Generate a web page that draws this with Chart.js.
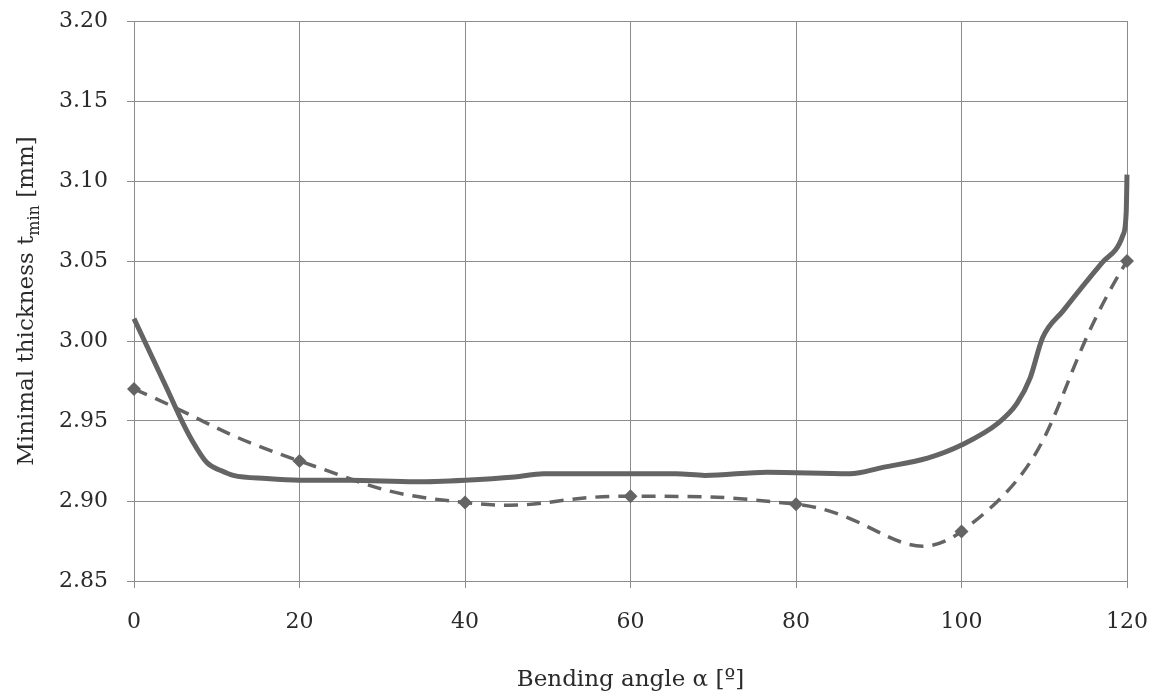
<!DOCTYPE html>
<html>
<head>
<meta charset="utf-8">
<script src="https://cdn.jsdelivr.net/npm/chart.js@4/dist/chart.umd.min.js"></script>
<style>
  html, body { margin: 0; padding: 0; background: #fff; }
  #chart { display: block; }
</style>
</head>
<body>
<canvas id="chart" width="1155" height="700"></canvas>
<script>
// solid curve (simulation)
const solidAngles = [0, 2, 4, 5.6, 7, 8.8, 10.5, 12, 16, 20, 26, 34, 40, 46, 49.5, 58, 65.5, 69, 76.5, 86.5, 90.5, 96, 100, 104.5, 106.7, 108.3, 109.8, 112.3, 117, 119.5, 119.9, 120];
const solidThickness = [3.014, 2.992, 2.970, 2.952, 2.938, 2.924, 2.919, 2.916, 2.914, 2.913, 2.913, 2.912, 2.913, 2.915, 2.917, 2.917, 2.917, 2.916, 2.918, 2.917, 2.921, 2.927, 2.935, 2.949, 2.961, 2.977, 3.002, 3.019, 3.049, 3.066, 3.080, 3.104];

// dashed curve with markers (measured)
const dashedAngles = [0, 20, 40, 60, 80, 100, 120];
const dashedThickness = [2.970, 2.925, 2.899, 2.903, 2.898, 2.881, 3.050];

const xTicks = [0, 20, 40, 60, 80, 100, 120];
const yTicks = [2.85, 2.90, 2.95, 3.00, 3.05, 3.10, 3.15, 3.20];

const FONT = '"DejaVu Serif", serif';
const lineColor = '#646464';
const gridColor = '#8c8c8c';
const textColor = '#2a2a2a';

const toPoints = (xs, ys) => xs.map((x, i) => ({ x, y: ys[i] }));

// y title with a real subscript
const yTitlePlugin = {
  id: 'yTitle',
  afterDraw(chart) {
    const ctx = chart.ctx;
    const area = chart.chartArea;
    const main = '23px ' + FONT;
    const sub = '16px ' + FONT;
    const parts = [
      { t: 'Minimal thickness t', f: main, dy: 0 },
      { t: 'min', f: sub, dy: 6 },
      { t: ' [mm]', f: main, dy: 0 }
    ];
    let total = 0;
    parts.forEach(p => { ctx.font = p.f; p.w = ctx.measureText(p.t).width; total += p.w; });
    ctx.save();
    ctx.translate(33, (area.top + area.bottom) / 2);
    ctx.rotate(-Math.PI / 2);
    ctx.fillStyle = textColor;
    ctx.textBaseline = 'alphabetic';
    let x = -total / 2;
    parts.forEach(p => {
      ctx.font = p.f;
      ctx.fillText(p.t, x, p.dy);
      x += p.w;
    });
    ctx.restore();
  }
};

new Chart(document.getElementById('chart'), {
  type: 'line',
  data: {
    datasets: [
      {
        data: toPoints(solidAngles, solidThickness),
        borderColor: lineColor,
        backgroundColor: lineColor,
        borderWidth: 5,
        pointRadius: 0,
        cubicInterpolationMode: 'monotone',
        fill: false
      },
      {
        data: toPoints(dashedAngles, dashedThickness),
        borderColor: lineColor,
        backgroundColor: lineColor,
        borderWidth: 3.5,
        borderDash: [14, 9],
        pointStyle: 'rectRot',
        pointRadius: 7,
        pointBorderWidth: 0,
        tension: 0.5,
        fill: false
      }
    ]
  },
  options: {
    responsive: false,
    animation: false,
    clip: false,
    layout: { padding: { top: 21, right: 28, left: 0, bottom: 0 } },
    plugins: {
      legend: { display: false },
      tooltip: { enabled: false }
    },
    scales: {
      x: {
        type: 'linear',
        min: 0,
        max: 120,
        afterBuildTicks: (scale) => { scale.ticks = xTicks.map(v => ({ value: v })); },
        afterFit: (scale) => {
          scale.height = 119;
          scale.paddingLeft = 0;
          scale.paddingRight = 0;
        },
        grid: { color: gridColor, lineWidth: 1, tickLength: 7, tickColor: gridColor },
        border: { color: gridColor },
        ticks: { color: textColor, font: { family: FONT, size: 22 }, padding: 21 },
        title: {
          display: true,
          text: 'Bending angle α [º]',
          color: textColor,
          font: { family: FONT, size: 23 },
          padding: { top: 0, bottom: 6 }
        }
      },
      y: {
        type: 'linear',
        min: 2.85,
        max: 3.20,
        afterBuildTicks: (scale) => { scale.ticks = yTicks.map(v => ({ value: v })); },
        afterFit: (scale) => {
          scale.width = 134;
          scale.paddingTop = 0;
          scale.paddingBottom = 0;
        },
        grid: { color: gridColor, lineWidth: 1, tickLength: 7, tickColor: gridColor },
        border: { color: gridColor },
        ticks: {
          color: textColor,
          font: { family: FONT, size: 22 },
          padding: 19,
          callback: (v) => v.toFixed(2)
        }
      }
    }
  },
  plugins: [yTitlePlugin]
});
</script>
</body>
</html>
